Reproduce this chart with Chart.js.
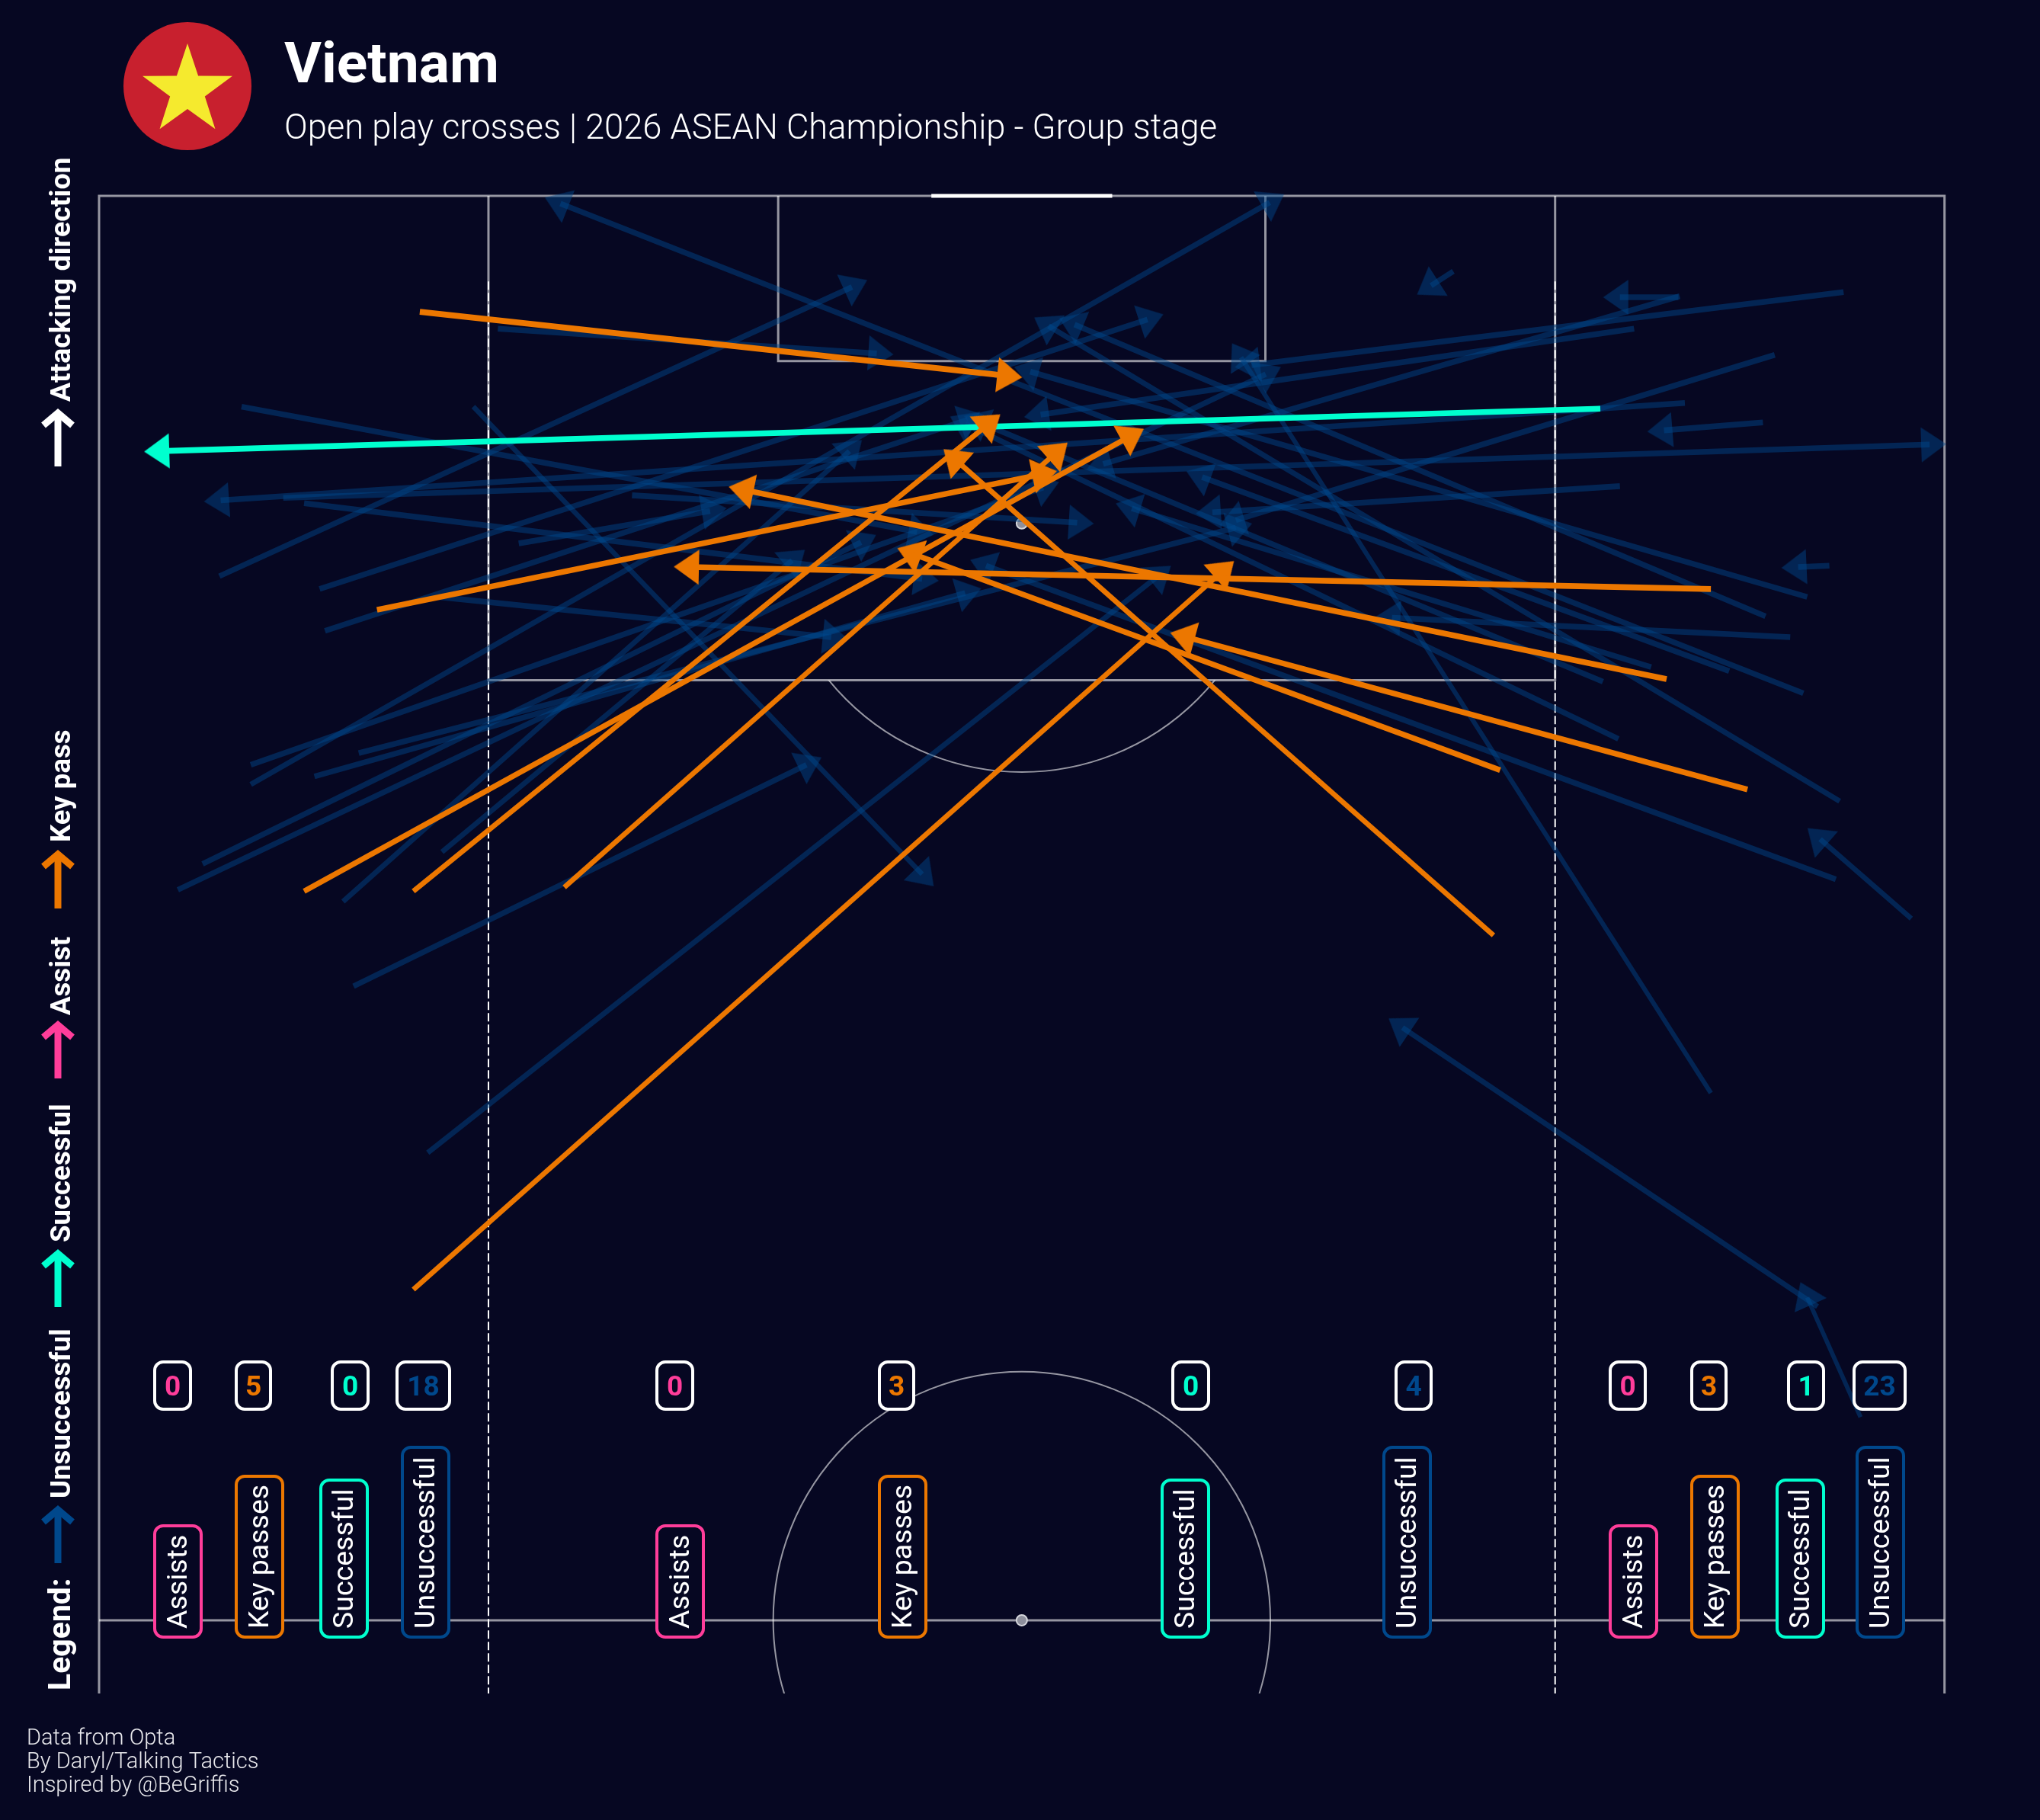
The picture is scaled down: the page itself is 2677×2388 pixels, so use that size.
<!DOCTYPE html>
<html>
<head>
<meta charset="utf-8">
<title>Vietnam open play crosses</title>
<script src="https://cdn.jsdelivr.net/npm/chart.js@4"></script>
<style>
html, body { margin: 0; padding: 0; background: #060722; }
#wrap { width: 2677px; height: 2388px; }
canvas { display: block; }
</style>
</head>
<body>
<div id="wrap"><canvas id="myChart" width="2677" height="2388"></canvas></div>
<script>
// crosses in Opta pitch units (x 0-100, y 0-100), end = middle of the arrow head
const blueStartX = [7.72, 20.28, 6.52, 9.98, 11.11, 11.95, 12.24, 13.22, 8.22, 8.22, 14.07, 11.67, 18.37, 4.27, 5.61, 18.58, 13.79, 17.81,
    21.61, 28.88, 22.74, 73.38,
    94.53, 83.18, 85.65, 85.58, 90.80, 85.93, 90.16, 82.41, 92.56, 90.30, 93.76, 91.64, 84.10, 88.33, 81.49, 92.35, 82.33, 94.32, 94.11, 87.34, 98.20, 95.45, 93.12];
const blueStartY = [92.60, 92.60, 86.65, 89.40, 89.21, 86.20, 84.73, 75.23, 80.03, 79.34, 80.44, 79.62, 85.92, 75.64, 76.55, 76.97, 72.26, 66.41,
    95.34, 89.49, 87.80, 97.35,
    96.62, 95.34, 96.48, 96.44, 94.42, 92.73, 92.05, 89.81, 85.92, 85.24, 87.02, 84.51, 83.46, 83.32, 82.95, 82.54, 80.94, 78.75, 76.01, 68.51, 74.63, 57.13, 61.01];
const blueEndX = [44.32, 44.60, 40.80, 99.19, 44.60, 56.81, 47.07, 40.66, 51.16, 63.43, 61.60, 46.93, 39.67, 63.22, 41.29, 37.55, 38.33, 57.37,
    42.14, 53.00, 33.11, 72.18,
    62.45, 51.02, 54.41, 82.41, 61.60, 6.59, 84.80, 60.33, 50.46, 52.86, 92.07, 70.06, 55.96, 59.77, 47.71, 25.00, 46.93, 51.45, 48.06, 61.88, 93.26, 92.56, 70.63];
const blueEndY = [88.21, 76.19, 96.80, 91.27, 86.56, 95.66, 92.14, 91.04, 89.76, 99.77, 88.35, 86.06, 84.51, 93.74, 87.84, 87.20, 80.03, 86.65,
    94.47, 88.53, 88.94, 96.85,
    94.06, 92.32, 90.59, 96.44, 88.62, 89.31, 91.77, 88.89, 93.83, 95.48, 86.97, 85.19, 89.03, 90.13, 92.05, 99.73, 92.00, 95.43, 87.02, 94.33, 77.42, 61.33, 70.80];

const orangeStartX = [17.38, 17.03, 75.56, 25.21, 15.06, 11.11, 84.94, 87.34, 75.92, 89.32, 17.03];
const orangeStartY = [95.93, 75.59, 74.04, 75.73, 85.47, 75.59, 83.04, 86.20, 79.84, 79.16, 61.61];
const orangeEndX = [49.12, 48.13, 46.44, 51.80, 51.02, 55.82, 35.01, 32.05, 44.11, 58.92, 60.82];
const orangeEndY = [93.69, 91.96, 90.72, 90.95, 90.22, 91.54, 89.67, 86.97, 87.43, 84.51, 86.79];

const cyanStartX = [81.35];
const cyanStartY = [92.53];
const cyanEndX = [3.35];
const cyanEndY = [91.04];

// counts under each zone: assists, key passes, successful, unsuccessful
const zoneNames = ["Assists", "Key passes", "Successful", "Unsuccessful"];
const leftCounts = [0, 5, 0, 18];
const middleCounts = [0, 3, 0, 4];
const rightCounts = [0, 3, 1, 23];

const legendNames = ["Unsuccessful", "Successful", "Assist", "Key pass"];

const BG = "#060722";
const BLUE = "#00488c";
const BLUE_FADED = "rgba(0, 72, 140, 0.47)";
const ORANGE = "#ec7700";
const CYAN = "#00ffcf";
const PINK = "#ff3d9a";
const zoneColours = [PINK, ORANGE, CYAN, BLUE];
const LINE_GREY = "rgba(255, 255, 255, 0.58)";

const PX_X = 24.217; // px per pitch unit, only for arrow angle and thickness
const PX_Y = 37.38;

// arrow head sprite, tip up, centred on the middle of the head
const headSprite = (colour) => {
    const c = document.createElement("canvas");
    c.width = 60;
    c.height = 60;
    const g = c.getContext("2d");
    g.fillStyle = colour;
    g.beginPath();
    g.moveTo(30, 8);
    g.lineTo(53, 41);
    g.lineTo(7, 41);
    g.closePath();
    g.fill();
    return c;
};

const arrowDataset = (sx, sy, ex, ey, colour, sprite, order) => {
    const dx = (ex - sx) * PX_X;
    const dy = (ey - sy) * PX_Y;
    const len = Math.sqrt(dx * dx + dy * dy);
    // flat arrows come out thicker than steep ones in the picture
    const width = Math.sqrt(Math.pow(7.6 * dx / len, 2) + Math.pow(5.4 * dy / len, 2));
    return {
        type: "line",
        data: [{ x: sx, y: sy }, { x: ex, y: ey }],
        borderColor: colour,
        backgroundColor: colour,
        borderWidth: width,
        pointStyle: sprite,
        pointRadius: [0, 5],
        pointHoverRadius: 0,
        pointBorderWidth: 0,
        pointRotation: Math.atan2(dx, dy) * 180 / Math.PI,
        tension: 0,
        clip: false,
        order: order
    };
};

const pitchLine = (xs, ys, colour, width, dash) => ({
    type: "line",
    data: xs.map((x, i) => ({ x: x, y: ys[i] })),
    borderColor: colour,
    borderWidth: width,
    borderDash: dash || [],
    pointRadius: 0,
    tension: 0,
    clip: false,
    order: 100
});

const spot = (x, y) => ({
    type: "scatter",
    data: [{ x: x, y: y }],
    pointRadius: 7,
    pointBackgroundColor: "#8d8f9c",
    pointBorderColor: "#d5d6dc",
    pointBorderWidth: 2,
    clip: false,
    order: 90
});

const datasets = [
    pitchLine([0, 0, 100, 100], [47.43, 100, 100, 47.43], LINE_GREY, 3),
    pitchLine([0, 100], [50, 50], LINE_GREY, 3),
    pitchLine([21.1, 21.1, 78.9, 78.9], [100, 83, 83, 100], LINE_GREY, 3),
    pitchLine([36.8, 36.8, 63.2, 63.2], [100, 94.2, 94.2, 100], LINE_GREY, 3),
    pitchLine([21.1, 21.1], [97, 47.43], "#ffffff", 2, [11, 4]),
    pitchLine([78.9, 78.9], [97, 47.43], "#ffffff", 2, [11, 4]),
    pitchLine([45.1, 54.9], [100, 100], "#ffffff", 5),
    spot(50, 88.5),
    spot(50, 50)
];
const blueHead = headSprite(BLUE_FADED);
const cyanHead = headSprite(CYAN);
const orangeHead = headSprite(ORANGE);
blueStartX.forEach((x, i) => {
    datasets.push(arrowDataset(x, blueStartY[i], blueEndX[i], blueEndY[i], BLUE_FADED, blueHead, 50));
});
cyanStartX.forEach((x, i) => {
    datasets.push(arrowDataset(x, cyanStartY[i], cyanEndX[i], cyanEndY[i], CYAN, cyanHead, 20));
});
orangeStartX.forEach((x, i) => {
    datasets.push(arrowDataset(x, orangeStartY[i], orangeEndX[i], orangeEndY[i], ORANGE, orangeHead, 10));
});

// arcs of the penalty area and centre circle
const arcsPlugin = {
    id: "arcs",
    beforeDatasetsDraw(chart) {
        const ctx = chart.ctx;
        const sx = chart.scales.x;
        const sy = chart.scales.y;
        const r = sx.getPixelForValue(13.47) - sx.getPixelForValue(0);
        ctx.save();
        ctx.strokeStyle = LINE_GREY;
        ctx.lineWidth = 2;

        ctx.save();
        ctx.beginPath();
        ctx.rect(0, sy.getPixelForValue(83), 2677, 400);
        ctx.clip();
        ctx.beginPath();
        ctx.arc(sx.getPixelForValue(50), sy.getPixelForValue(88.5), r, 0, Math.PI * 2);
        ctx.stroke();
        ctx.restore();

        ctx.save();
        ctx.beginPath();
        ctx.rect(0, 0, 2677, sy.getPixelForValue(47.43));
        ctx.clip();
        ctx.beginPath();
        ctx.arc(sx.getPixelForValue(50), sy.getPixelForValue(50), r, 0, Math.PI * 2);
        ctx.stroke();
        ctx.restore();
        ctx.restore();
    }
};

const roundBox = (ctx, x0, y0, x1, y1, colour) => {
    ctx.beginPath();
    ctx.roundRect(x0, y0, x1 - x0, y1 - y0, 11);
    ctx.fillStyle = BG;
    ctx.fill();
    ctx.lineWidth = 4;
    ctx.strokeStyle = colour;
    ctx.stroke();
};

const rotatedText = (ctx, text, x, y) => {
    ctx.save();
    ctx.translate(x, y);
    ctx.rotate(-Math.PI / 2);
    ctx.textAlign = "left";
    ctx.textBaseline = "alphabetic";
    ctx.fillText(text, 0, 0);
    ctx.restore();
};

// left edge of each label box, per zone
const zoneBoxes = [
    { labels: [203, 310, 421, 528], numbers: [[203, 250], [310, 355], [436, 483], [521, 590]], counts: leftCounts },
    { labels: [862, 1154, 1525, 1816], numbers: [[862, 909], [1154, 1199], [1539, 1586], [1832, 1878]], counts: middleCounts },
    { labels: [2113, 2220, 2332, 2437], numbers: [[2113, 2159], [2220, 2265], [2347, 2393], [2433, 2500]], counts: rightCounts }
];
const labelTops = [2002, 1937, 1942, 1899];

const labelsPlugin = {
    id: "labels",
    afterDatasetsDraw(chart) {
        const ctx = chart.ctx;
        ctx.save();
        zoneBoxes.forEach((zone) => {
            zone.labels.forEach((left, i) => {
                roundBox(ctx, left, labelTops[i], left + 61, 2148, zoneColours[i]);
                ctx.fillStyle = "#ffffff";
                ctx.font = "37.5px Roboto";
                rotatedText(ctx, zoneNames[i], left + 42, 2137);

                const nb = zone.numbers[i];
                roundBox(ctx, nb[0], 1787, nb[1], 1849, "#ffffff");
                ctx.fillStyle = zoneColours[i];
                ctx.font = "bold 37px Roboto";
                ctx.textAlign = "center";
                ctx.textBaseline = "alphabetic";
                ctx.fillText(String(zone.counts[i]), (nb[0] + nb[1]) / 2, 1831);
            });
        });
        ctx.restore();
    },
    afterDraw(chart) {
        const ctx = chart.ctx;
        ctx.save();

        // flag
        ctx.fillStyle = "#c8202e";
        ctx.beginPath();
        ctx.arc(246, 113, 84, 0, Math.PI * 2);
        ctx.fill();
        ctx.fillStyle = "#f5ea2e";
        ctx.beginPath();
        for (let i = 0; i < 10; i++) {
            const r = i % 2 === 0 ? 62 : 24;
            const a = -Math.PI / 2 + i * Math.PI / 5;
            ctx.lineTo(246 + r * Math.cos(a), 119 + r * Math.sin(a));
        }
        ctx.closePath();
        ctx.fill();

        // header
        ctx.textAlign = "left";
        ctx.textBaseline = "alphabetic";
        ctx.fillStyle = "#ffffff";
        ctx.font = "bold 75px Roboto";
        ctx.fillText("Vietnam", 373, 108);
        ctx.font = "300 45.3px Roboto";
        ctx.fillText("Open play crosses | 2026 ASEAN Championship - Group stage", 373, 182);

        // footer
        ctx.fillStyle = "#e8e8ec";
        ctx.font = "300 29px Roboto";
        ctx.fillText("Data from Opta", 35, 2289);
        ctx.fillText("By Daryl/Talking Tactics", 35, 2320);
        ctx.fillText("Inspired by @BeGriffis", 35, 2351);

        // legend down the left side
        ctx.fillStyle = "#ffffff";
        ctx.font = "bold 37.5px Roboto";
        rotatedText(ctx, "Attacking direction", 92, 527);
        ctx.font = "bold 36.6px Roboto";
        rotatedText(ctx, legendNames[3], 92, 1105);
        rotatedText(ctx, legendNames[2], 92, 1332);
        rotatedText(ctx, legendNames[1], 92, 1630);
        rotatedText(ctx, legendNames[0], 92, 1966);
        ctx.font = "bold 41px Roboto";
        rotatedText(ctx, "Legend:", 92, 2218);

        const legendArrow = (tip, bottom, colour) => {
            ctx.strokeStyle = colour;
            ctx.lineWidth = 9;
            ctx.lineJoin = "miter";
            ctx.beginPath();
            ctx.moveTo(76, bottom);
            ctx.lineTo(76, tip + 4);
            ctx.stroke();
            ctx.beginPath();
            ctx.moveTo(57, tip + 22);
            ctx.lineTo(76, tip + 6);
            ctx.lineTo(95, tip + 22);
            ctx.stroke();
        };
        legendArrow(536, 612, "#ffffff");
        legendArrow(1115, 1192, ORANGE);
        legendArrow(1339, 1415, PINK);
        legendArrow(1639, 1715, CYAN);
        legendArrow(1975, 2051, BLUE);

        ctx.restore();
    }
};

const myChart = new Chart(document.getElementById("myChart").getContext("2d"), {
    data: { datasets: datasets },
    options: {
        responsive: false,
        animation: false,
        devicePixelRatio: 1,
        layout: { padding: { left: 130, right: 125.3, top: 257, bottom: 166 } },
        plugins: { legend: { display: false }, tooltip: { enabled: false } },
        scales: {
            x: { type: "linear", min: 0, max: 100, display: false },
            y: { type: "linear", min: 47.43, max: 100, display: false }
        }
    },
    plugins: [arcsPlugin, labelsPlugin]
});
</script>
</body>
</html>
